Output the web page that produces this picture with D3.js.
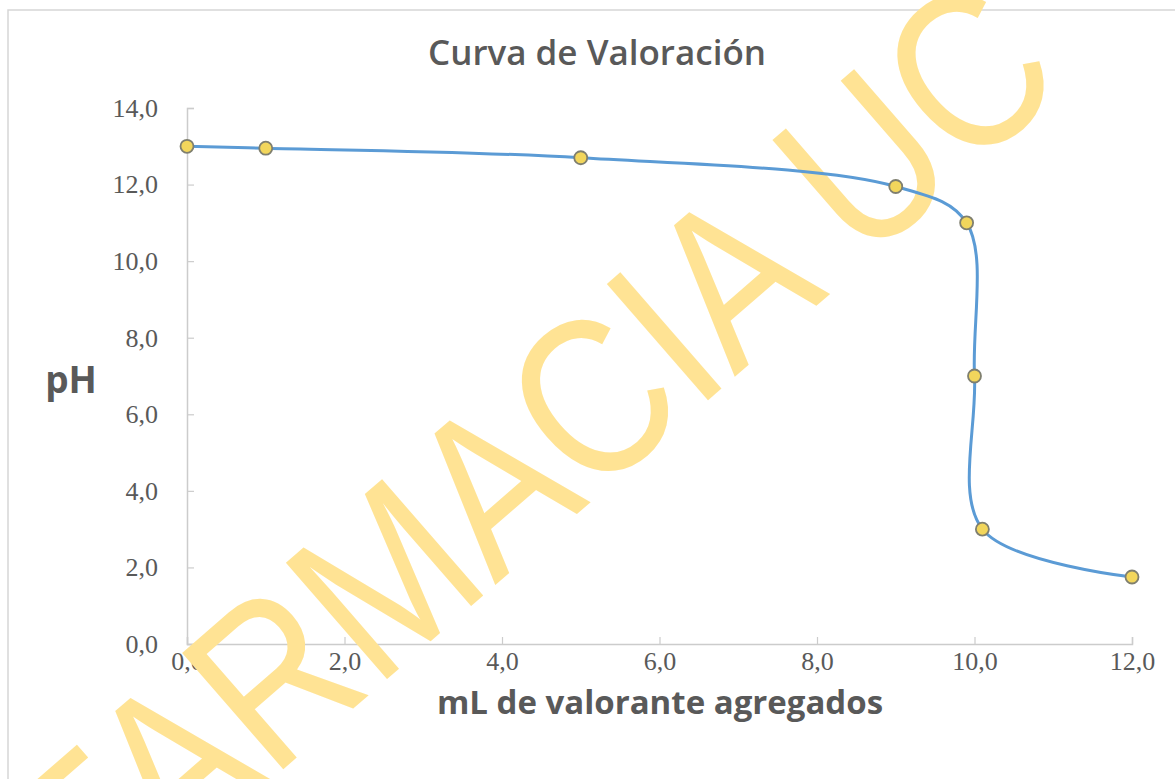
<!DOCTYPE html>
<html>
<head>
<meta charset="utf-8">
<script src="https://cdn.jsdelivr.net/npm/d3@7"></script>
<style>
  html, body { margin: 0; padding: 0; background: #ffffff; }
  svg { display: block; }
</style>
</head>
<body>
<svg id="chart" width="1175" height="779"></svg>
<script>
// ---- data ----
const mlValues = [0, 1, 5, 9, 9.9, 10, 10.1, 12];
const phValues = [13.0, 12.95, 12.7, 11.95, 11.0, 7.0, 3.0, 1.75];
const xTickValues = [0, 2, 4, 6, 8, 10, 12];
const yTickValues = [0, 2, 4, 6, 8, 10, 12, 14];
const chartTitle = "Curva de Valoración";
const xTitle = "mL de valorante agregados";
const yTitle = "pH";
const watermarkText = "FARMACIA UC";

// ---- setup ----
const svg = d3.select("#chart");
const W = 1175, H = 779;
const plot = { left: 187, right: 1132, top: 108, bottom: 644 };

const locale = d3.formatLocale({ decimal: ",", thousands: ".", grouping: [3], currency: ["", ""] });
const fmt = locale.format(".1f");

const x = d3.scaleLinear().domain([0, 12]).range([plot.left, plot.right]);
const y = d3.scaleLinear().domain([0, 14]).range([plot.bottom, plot.top]);

const textColor = "#595959";
const axisColor = "#cccccc";

// background + frame
svg.append("rect").attr("x", 0).attr("y", 0).attr("width", W).attr("height", H).attr("fill", "#ffffff");
svg.append("rect")
  .attr("x", 8).attr("y", 10).attr("width", W + 20).attr("height", H + 20)
  .attr("fill", "none").attr("stroke", "#d6d6d6").attr("stroke-width", 1.5);

// title
svg.append("text")
  .attr("x", 597).attr("y", 65)
  .attr("text-anchor", "middle")
  .attr("font-family", "'Open Sans', sans-serif")
  .attr("font-weight", 600)
  .attr("font-size", 35)
  .attr("fill", textColor)
  .text(chartTitle);

// axes
const yAxis = d3.axisLeft(y).tickValues(yTickValues).tickFormat(fmt).tickSize(-7).tickPadding(29);
const xAxis = d3.axisBottom(x).tickValues(xTickValues).tickFormat(fmt).tickSize(-7).tickPadding(8);

const gy = svg.append("g").attr("transform", `translate(${plot.left},0)`).call(yAxis);
const gx = svg.append("g").attr("transform", `translate(0,${plot.bottom})`).call(xAxis);

[gx, gy].forEach(g => {
  g.select(".domain").attr("stroke", axisColor).attr("stroke-width", 1.5);
  g.selectAll(".tick line").attr("stroke", axisColor).attr("stroke-width", 1.2);
  g.selectAll(".tick text")
    .attr("fill", textColor)
    .attr("font-family", "'Liberation Serif', serif")
    .attr("font-size", 26);
});

// axis titles
svg.append("text")
  .attr("x", 660).attr("y", 714)
  .attr("text-anchor", "middle")
  .attr("font-family", "'Open Sans', sans-serif")
  .attr("font-weight", 700)
  .attr("font-size", 33)
  .attr("fill", textColor)
  .text(xTitle);

svg.append("text")
  .attr("x", 71).attr("y", 393)
  .attr("text-anchor", "middle")
  .attr("font-family", "'Open Sans', sans-serif")
  .attr("font-weight", 700)
  .attr("font-size", 37)
  .attr("fill", textColor)
  .text(yTitle);

// watermark
svg.append("text")
  .attr("transform", "translate(530,448) rotate(-41) scale(0.85,1)")
  .attr("text-anchor", "middle")
  .attr("dy", "0.36em")
  .attr("font-family", "'Liberation Sans', sans-serif")
  .attr("font-size", 224)
  .attr("fill", "#FFE394")
  .text(watermarkText);

// curve
const pts = mlValues.map((v, i) => [v, phValues[i]]);
const line = d3.line()
  .x(d => x(d[0]))
  .y(d => y(d[1]))
  .curve(d3.curveCatmullRom.alpha(0.5));

svg.append("path")
  .datum(pts)
  .attr("d", line)
  .attr("fill", "none")
  .attr("stroke", "#5B9BD5")
  .attr("stroke-width", 3)
  .attr("stroke-linecap", "round");

svg.append("g").selectAll("circle")
  .data(pts)
  .join("circle")
  .attr("cx", d => x(d[0]))
  .attr("cy", d => y(d[1]))
  .attr("r", 6.5)
  .attr("fill", "#F2D65C")
  .attr("stroke", "#7f7f6f")
  .attr("stroke-width", 1.8);
</script>
</body>
</html>
